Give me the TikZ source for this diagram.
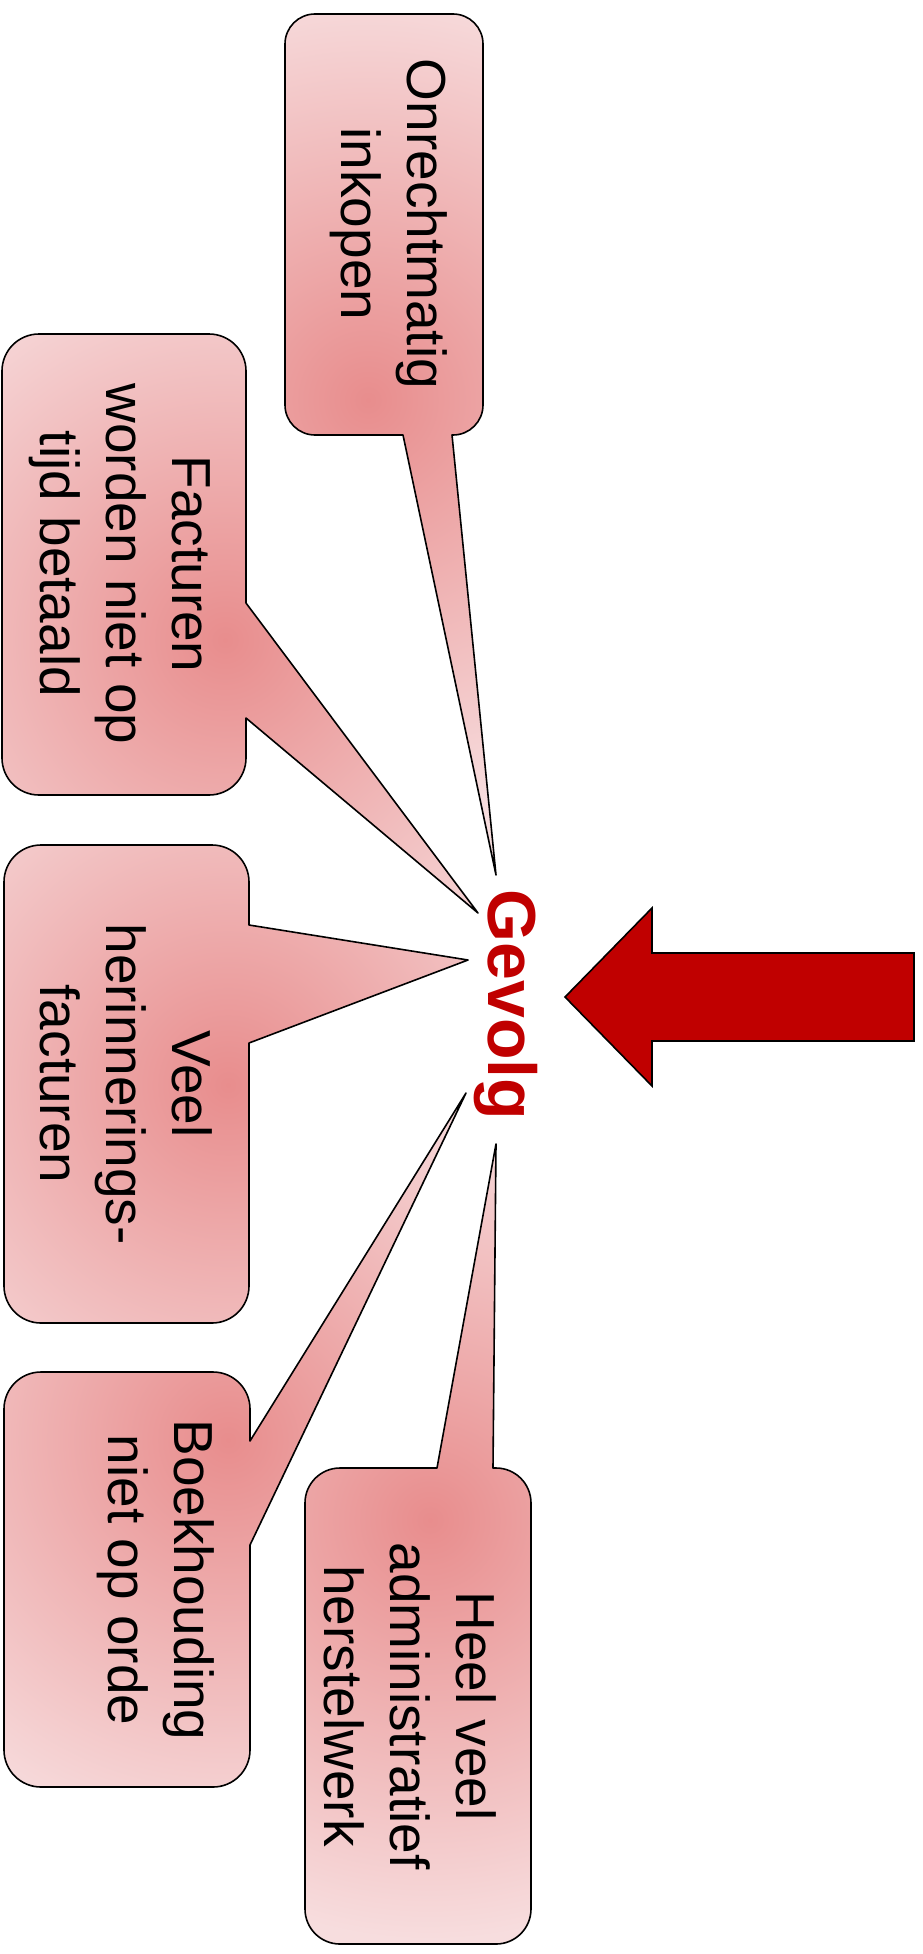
\documentclass[tikz,border=0pt]{standalone}
\usepackage{fontspec}
\setmainfont{Liberation Sans}
\usepackage{tikz}
\usepackage{xcolor}
\definecolor{calloutdark}{RGB}{232,141,141}
\definecolor{calloutlight}{RGB}{247,221,222}
\definecolor{gevolgred}{RGB}{192,0,0}
\newcommand*{\rBox}{37}
\newcommand*{\rSmall}{30}

\begin{document}
\begin{tikzpicture}[x=1pt,y=-1pt,
	callout/.style={draw=black,line width=1.6pt,line join=round,
		path picture={\fill[calloutlight] (path picture bounding box.south west) rectangle (path picture bounding box.north east);
			\shade[inner color=calloutdark,outer color=calloutlight] (#1) circle (420);}},
	lbl/.style={rotate=-90,anchor=north,align=center,inner sep=0pt,font=\fontsize{55}{66}\selectfont}]
	\useasboundingbox (0,0) rectangle (923,1954);
	\foreach \n/\p in {tipA/{496,875},tipB/{478,913},tipC/{468,960},tipD/{466,1093},tipE/{496,1144}}
		\coordinate (\n) at (\p);
	% callouts
	\draw[callout={368,400}] (285,44) arc[start angle=180,end angle=270,radius=\rSmall] -- (453,14) arc[start angle=270,end angle=360,radius=\rSmall] -- (483,405) arc[start angle=0,end angle=90,radius=\rSmall] -- (452,435) -- (tipA) -- (403,435) -- (315,435) arc[start angle=90,end angle=180,radius=\rSmall] -- cycle;
	\draw[callout={225,640}] (2,371) arc[start angle=180,end angle=270,radius=\rBox] -- (209,334) arc[start angle=270,end angle=360,radius=\rBox] -- (246,603) -- (tipB) -- (246,718) -- (246,758) arc[start angle=0,end angle=90,radius=\rBox] -- (39,795) arc[start angle=90,end angle=180,radius=\rBox] -- cycle;
	\draw[callout={228,1085}] (4,882) arc[start angle=180,end angle=270,radius=\rBox] -- (212,845) arc[start angle=270,end angle=360,radius=\rBox] -- (249,925) -- (tipC) -- (249,1043) -- (249,1286) arc[start angle=0,end angle=90,radius=\rBox] -- (41,1323) arc[start angle=90,end angle=180,radius=\rBox] -- cycle;
	\draw[callout={228,1440}] (4,1409) arc[start angle=180,end angle=270,radius=\rBox] -- (213,1372) arc[start angle=270,end angle=360,radius=\rBox] -- (250,1441) -- (tipD) -- (250,1545) -- (250,1750) arc[start angle=0,end angle=90,radius=\rBox] -- (41,1787) arc[start angle=90,end angle=180,radius=\rBox] -- cycle;
	\draw[callout={430,1520}] (305,1503) arc[start angle=180,end angle=270,radius=35] -- (437,1468) -- (tipE) -- (493,1468) -- (496,1468) arc[start angle=270,end angle=360,radius=35] -- (531,1909) arc[start angle=0,end angle=90,radius=35] -- (340,1944) arc[start angle=90,end angle=180,radius=35] -- cycle;
	% texts
	\node[lbl] (onrecht) at (448,224) {Onrechtmatig\\inkopen};
	\node[lbl] (facturen) at (211,564) {Facturen\\worden niet op\\tijd betaald};
	\node[lbl] (herinner) at (213,1084) {Veel\\herinnerings-\\facturen};
	\node[lbl] (boekh) at (215,1580) {Boekhouding\\niet op orde};
	\node[lbl] (herstel) at (497,1706) {Heel veel\\administratief\\herstelwerk};
	\node[rotate=-90,inner sep=0pt,text=gevolgred,font=\fontsize{68}{80}\selectfont\bfseries] (gevolg) at (506,1005) {Gevolg};
	% big arrow
	\draw[line width=1.6pt,line join=miter,fill=gevolgred] (565,997) -- (652,908) -- (652,953) -- (914,953) -- (914,1041) -- (652,1041) -- (652,1086) -- cycle;
\end{tikzpicture}
\end{document}
